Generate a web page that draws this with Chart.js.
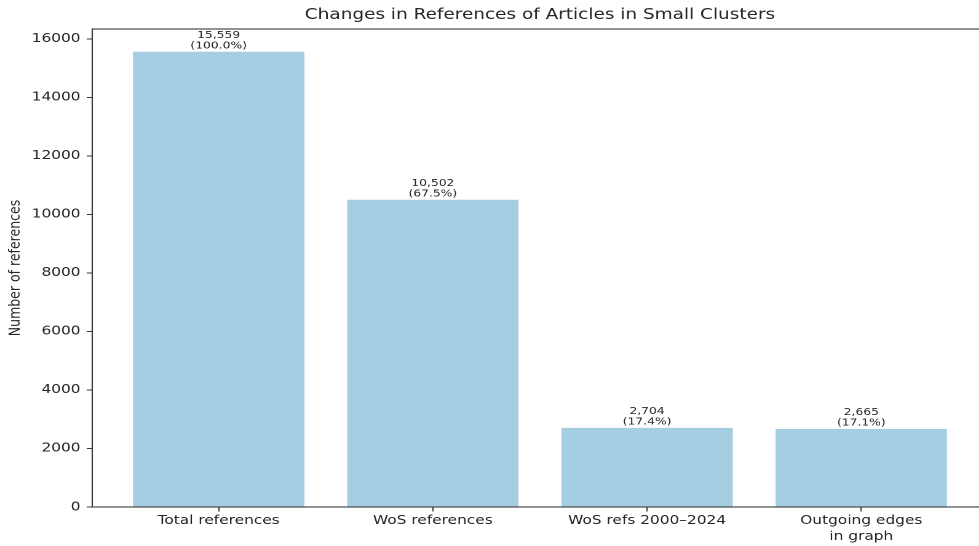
<!DOCTYPE html>
<html>
<head>
<meta charset="utf-8">
<title>Changes in References of Articles in Small Clusters</title>
<script src="https://cdn.jsdelivr.net/npm/chart.js@4/dist/chart.umd.min.js"></script>
<style>
  html, body { margin: 0; padding: 0; background: #fff; overflow: hidden; }
  /* the reference picture is stretched sideways, so the chart is drawn narrow and widened */
  #wrap { width: 810px; height: 546px; transform: scaleX(1.23); transform-origin: 0 0; }
</style>
</head>
<body>
<div id="wrap"><canvas id="refChart" width="810" height="546"></canvas></div>
<script>
// data
const categories = ['Total references', 'WoS references', 'WoS refs 2000\u20132024', 'Outgoing edges\nin graph'];
const refCounts = [15559, 10502, 2704, 2665];
const yTicks = [0, 2000, 4000, 6000, 8000, 10000, 12000, 14000, 16000];
const yMax = 16337;

const textColor = '#262626';
const lineColor = '#3a3a3a';
const font = 'DejaVu Sans';

// frame around the plot (matplotlib spines)
const framePlugin = {
    id: 'frame',
    afterDraw(chart) {
        const { ctx, chartArea } = chart;
        ctx.save();
        ctx.strokeStyle = lineColor;
        ctx.lineWidth = 1.1;
        ctx.strokeRect(chartArea.left, chartArea.top, chartArea.right - chartArea.left, chartArea.bottom - chartArea.top);
        ctx.restore();
    }
};

// count and percentage written above each bar
const barLabels = {
    id: 'barLabels',
    afterDatasetsDraw(chart) {
        const ctx = chart.ctx;
        const meta = chart.getDatasetMeta(0);
        ctx.save();
        ctx.fillStyle = textColor;
        ctx.font = '10px "' + font + '"';
        ctx.textAlign = 'center';
        ctx.textBaseline = 'bottom';
        meta.data.forEach((bar, i) => {
            const pct = (refCounts[i] / refCounts[0] * 100).toFixed(1);
            ctx.fillText(refCounts[i].toLocaleString('en-US'), bar.x, bar.y - 11.5);
            ctx.fillText('(' + pct + '%)', bar.x, bar.y - 1);
        });
        ctx.restore();
    }
};

const ctx = document.getElementById('refChart').getContext('2d');
new Chart(ctx, {
    type: 'bar',
    data: {
        datasets: [{
            data: refCounts.map((v, i) => ({ x: i, y: v })),
            backgroundColor: '#a6cee3',
            borderWidth: 0,
            barPercentage: 0.8,
            categoryPercentage: 1.0
        }]
    },
    options: {
        responsive: false,
        animation: false,
        devicePixelRatio: 2,
        layout: { padding: { left: 0, right: 7, top: 0, bottom: 0 } },
        plugins: {
            legend: { display: false },
            tooltip: { enabled: false },
            title: {
                display: true,
                fullSize: false,
                text: 'Changes in References of Articles in Small Clusters',
                color: textColor,
                font: { family: font, size: 15, weight: 'normal' },
                padding: { top: 6, bottom: 5 }
            }
        },
        scales: {
            x: {
                type: 'linear',
                min: -0.59,
                max: 3.59,
                offset: false,
                grid: { display: true, offset: false, drawOnChartArea: false, drawTicks: true, tickLength: 4.5, tickColor: lineColor },
                border: { display: false },
                afterBuildTicks: axis => { axis.ticks = categories.map((c, i) => ({ value: i })); },
                afterFit: axis => { axis.height = 39; },
                ticks: {
                    autoSkip: false,
                    maxRotation: 0,
                    padding: 1,
                    color: textColor,
                    font: { family: font, size: 12.5, lineHeight: 1.28 },
                    callback: v => categories[v] ? categories[v].split('\n') : ''
                }
            },
            y: {
                min: 0,
                max: yMax,
                grid: { display: true, drawOnChartArea: false, drawTicks: true, tickLength: 4.5, tickColor: lineColor },
                border: { display: false },
                afterBuildTicks: axis => { axis.ticks = yTicks.map(v => ({ value: v })); },
                afterFit: axis => { axis.width = 75; },
                ticks: {
                    padding: 5,
                    color: textColor,
                    font: { family: font, size: 12.5 },
                    callback: v => String(v)
                },
                title: {
                    display: true,
                    text: 'Number of references',
                    color: textColor,
                    font: { family: font, size: 12.5 },
                    padding: { top: 5, bottom: 0 }
                }
            }
        }
    },
    plugins: [framePlugin, barLabels]
});
</script>
</body>
</html>
